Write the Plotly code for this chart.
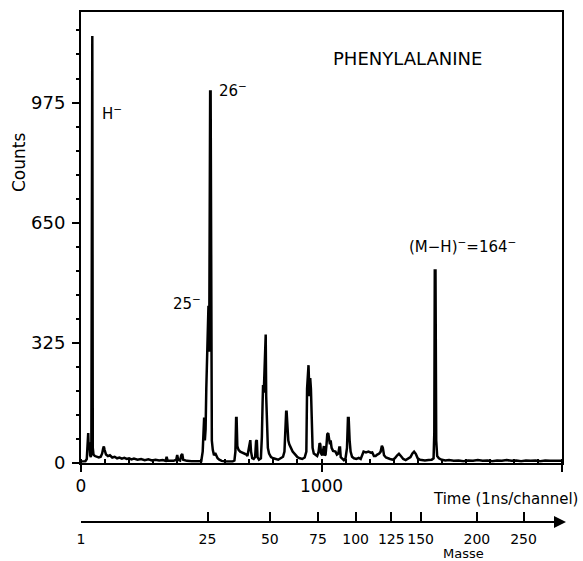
import plotly.graph_objects as go

# ---- data ----
time_channel = [0, 18, 24, 28, 30, 32, 35, 38, 41, 43, 45, 47, 49, 52, 58, 66, 74, 82, 88, 92, 95, 98,
                104, 112, 120, 130, 140, 150, 160, 170, 180, 190, 200, 210, 220, 235, 250, 265, 280, 295,
                310, 325, 340, 352, 356, 360, 372, 385, 396, 400, 404, 412, 417, 421, 425, 440, 460, 480,
                500, 506, 509, 512, 515, 518, 521, 524, 527, 530, 533, 535, 537, 539, 541, 544, 548, 553,
                558, 562, 568, 575, 585, 600, 615, 630, 638, 642, 645, 647, 650, 655, 662, 670, 680, 688,
                692, 697, 701, 704, 707, 712, 718, 724, 728, 731, 734, 740, 748, 752, 755, 757, 760, 763,
                765, 768, 770, 773, 777, 782, 790, 800, 810, 820, 830, 840, 846, 850, 853, 855, 858, 862,
                866, 871, 880, 892, 900, 910, 920, 930, 937, 940, 943, 946, 950, 953, 956, 959, 963, 968,
                975, 982, 988, 992, 995, 998, 1003, 1007, 1010, 1013, 1017, 1021, 1024, 1028, 1031, 1035,
                1038, 1042, 1048, 1053, 1058, 1064, 1070, 1074, 1077, 1080, 1087, 1093, 1100, 1106, 1110,
                1113, 1117, 1121, 1127, 1135, 1145, 1155, 1163, 1170, 1175, 1185, 1195, 1205, 1211, 1218,
                1225, 1232, 1240, 1246, 1251, 1255, 1260, 1268, 1274, 1285, 1295, 1305, 1315, 1322, 1330,
                1340, 1350, 1360, 1370, 1378, 1385, 1392, 1400, 1410, 1420, 1430, 1445, 1458, 1466, 1469,
                1471, 1474, 1477, 1481, 1488, 1500, 1515, 1530, 1550, 1570, 1590, 1610, 1630, 1650, 1670,
                1690, 1710, 1730, 1750, 1770, 1790, 1810, 1830, 1850, 1870, 1890, 1910, 1930, 1950, 1970,
                1990, 2000]
counts = [3, 4, 10, 60, 80, 40, 55, 20, 15, 30, 1155, 1155, 40, 22, 18, 16, 14, 16, 25, 38, 44, 35,
          22, 18, 20, 14, 16, 12, 14, 11, 13, 10, 12, 9, 11, 8, 10, 7, 9, 6,
          8, 6, 7, 5, 16, 6, 6, 5, 8, 21, 8, 6, 20, 24, 8, 5, 4, 3,
          4, 30, 120, 122, 60, 90, 200, 300, 410, 425, 300, 900, 1005, 1005, 150, 60, 35, 20,
          26, 18, 12, 8, 5, 3, 4, 3, 6, 30, 121, 121, 45, 35, 30, 28, 25, 22,
          18, 40, 61, 61, 30, 12, 10, 15, 58, 61, 15, 8, 12, 70, 160, 210, 190, 250,
          347, 347, 180, 90, 40, 25, 15, 12, 10, 8, 12, 16, 30, 110, 138, 138, 80, 60,
          50, 43, 30, 21, 15, 12, 10, 14, 30, 200, 264, 264, 180, 229, 200, 80, 40, 25,
          21, 18, 30, 53, 50, 25, 20, 45, 45, 20, 22, 50, 77, 80, 60, 50,
          60, 40, 32, 30, 30, 22, 25, 41, 41, 15, 10, 7, 12, 40, 121,
          121, 60, 30, 16, 12, 10, 13, 10, 22, 30, 28, 30, 27, 28, 18,
          18, 22, 25, 30, 46, 40, 20, 14, 12, 10, 8, 12, 20, 24, 18,
          10, 7, 10, 15, 25, 30, 24, 12, 8, 7, 6, 7, 8, 12, 80,
          520, 520, 60, 18, 12, 8, 6, 7, 5, 6, 4, 6, 5, 7, 5,
          6, 4, 6, 5, 7, 5, 6, 4, 6, 5, 6, 4, 6, 5, 6,
          5, 5]

count_ticks = [0, 325, 650, 975]
time_ticks = [0, 1000, 2000]
masse_labels = ["1", "25", "50", "75", "100", "125", "150", "200", "250"]
masse_time = [0, 526, 785, 985, 1142, 1290, 1412, 1646, 1840]

peak_labels = ["H<sup>−</sup>", "26<sup>−</sup>", "25<sup>−</sup>", "(M−H)<sup>−</sup>=164<sup>−</sup>"]
peak_label_time = [79, 567, 508, 1354]
peak_label_count = [946, 1008, 431, 586]
peak_label_anchor = ["left", "left", "right", "left"]

FONT = "DejaVu Sans"

fig = go.Figure()
fig.add_trace(go.Scatter(x=time_channel, y=counts, mode="lines",
                         line=dict(color="black", width=2.5), hoverinfo="skip", showlegend=False))
fig.add_trace(go.Scatter(x=[None], y=[None], xaxis="x2", yaxis="y", mode="lines", showlegend=False))

for txt, tx, cy, anc in zip(peak_labels, peak_label_time, peak_label_count, peak_label_anchor):
    fig.add_annotation(x=tx, y=cy, xref="x", yref="y", text=txt, showarrow=False,
                       xanchor=anc, yanchor="middle", font=dict(family=FONT, size=15, color="black"))

fig.add_annotation(x=1357, y=1094, xref="x", yref="y", text="PHENYLALANINE", showarrow=False,
                   xanchor="center", yanchor="middle", font=dict(family=FONT, size=18, color="black"))

W = 481.0
H = 510.0
fig.add_annotation(x=(19 - 81) / W, y=(522 - 163) / H, xref="paper", yref="paper", text="Counts",
                   textangle=-90, showarrow=False, xanchor="center", yanchor="middle",
                   font=dict(family=FONT, size=17, color="black"))
fig.add_annotation(x=(505 - 81) / W, y=(522 - 499) / H, xref="paper", yref="paper",
                   text="Time (1ns/channel)", showarrow=False, xanchor="center", yanchor="middle",
                   font=dict(family=FONT, size=15, color="black"))
fig.add_annotation(x=(463 - 81) / W, y=(522 - 553) / H, xref="paper", yref="paper",
                   text="Masse", showarrow=False, xanchor="center", yanchor="middle",
                   font=dict(family=FONT, size=13, color="black"))
# arrowhead at the end of the mass axis
fig.add_annotation(x=(566 - 81) / W, y=0, xref="paper", yref="paper", text="", showarrow=True,
                   ax=-16, ay=0, arrowhead=2, arrowsize=1.2, arrowwidth=2, arrowcolor="black")

fig.update_layout(
    width=583, height=561,
    margin=dict(l=81, r=21, t=12, b=39),
    paper_bgcolor="white", plot_bgcolor="white",
    font=dict(family=FONT, color="black"),
    xaxis=dict(range=[0, 2000], tickvals=time_ticks, ticktext=[str(v) for v in time_ticks],
               ticks="outside", ticklen=7, tickwidth=2, tickcolor="black", tickangle=0,
               minor=dict(ticks="inside", dtick=100, tick0=0, ticklen=4, tickwidth=1.5, tickcolor="black"),
               showline=True, linewidth=2, linecolor="black", mirror=True,
               showgrid=False, zeroline=False, automargin=False,
               tickfont=dict(family=FONT, size=17, color="black"), anchor="y"),
    yaxis=dict(range=[0, 1220], domain=[(522 - 462.7) / H, 1], tickvals=count_ticks,
               ticks="outside", ticklen=7, tickwidth=2, tickcolor="black",
               minor=dict(ticks="outside", dtick=65, tick0=0, ticklen=3, tickwidth=1.5, tickcolor="black"),
               showline=True, linewidth=2, linecolor="black", mirror=True,
               showgrid=False, zeroline=False, automargin=False, ticklabelstandoff=3,
               tickfont=dict(family=FONT, size=18, color="black")),
    xaxis2=dict(overlaying="x", anchor="free", position=0, range=[0, 2000],
                tickvals=masse_time, ticktext=masse_labels, tickangle=0,
                ticks="inside", ticklen=9, tickwidth=1.5, tickcolor="black",
                showline=True, linewidth=2, linecolor="black",
                showgrid=False, zeroline=False, automargin=False, ticklabelstandoff=4,
                tickfont=dict(family=FONT, size=14, color="black")),
)

fig.write_html("out.html", config={"displayModeBar": False},
               post_script="document.body.style.margin='0';document.body.style.padding='0';")
